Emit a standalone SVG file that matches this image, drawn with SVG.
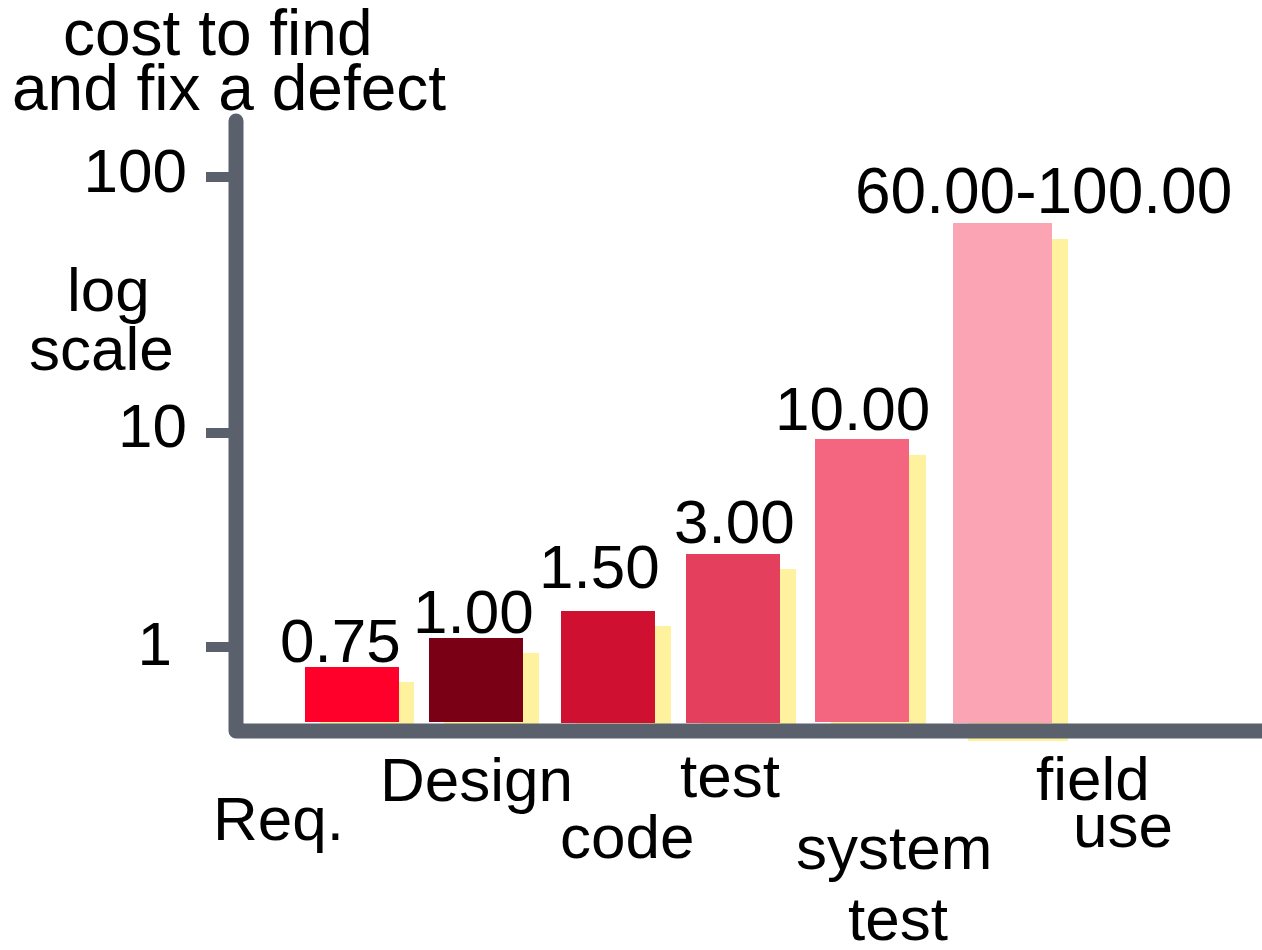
<svg xmlns="http://www.w3.org/2000/svg" width="1262" height="950" viewBox="0 0 1262 950">
  <style>
    text { font-family: "Liberation Sans", Arial, sans-serif; font-size: 62px; fill: #000; }
    .big { font-size: 64px; }
    .bar-shadow { fill: #FFF29E; }
    .axis { stroke: #5A606C; fill: none; }
  </style>
  <rect width="1262" height="950" fill="#FFFFFF"/>

  <g id="title">
    <text class="big" x="63" y="55">cost to find</text>
    <text class="big" x="12" y="110">and fix a defect</text>
  </g>

  <g id="y-axis-labels">
    <text x="187" y="192" text-anchor="end">100</text>
    <text x="187" y="447" text-anchor="end">10</text>
    <text x="172" y="665" text-anchor="end">1</text>
    <text x="67" y="311">log</text>
    <text x="29" y="370">scale</text>
  </g>

  <g id="bar-req">
    <rect class="bar-shadow" x="320" y="682" width="94" height="55"/>
    <rect x="305" y="667" width="94" height="55" fill="#FF002B"/>
    <text x="280" y="662">0.75</text>
  </g>
  <g id="bar-design">
    <rect class="bar-shadow" x="444" y="653" width="95" height="84"/>
    <rect x="429" y="638" width="94" height="84" fill="#7A0016"/>
    <text x="413" y="633">1.00</text>
  </g>
  <g id="bar-code">
    <rect class="bar-shadow" x="576" y="626" width="95" height="112"/>
    <rect x="561" y="611" width="94" height="112" fill="#CF1030"/>
    <text x="539" y="588">1.50</text>
  </g>
  <g id="bar-test">
    <rect class="bar-shadow" x="701" y="569" width="95" height="169"/>
    <rect x="686" y="554" width="94" height="169" fill="#E4405E"/>
    <text x="674" y="543">3.00</text>
  </g>
  <g id="bar-system-test">
    <rect class="bar-shadow" x="831" y="455" width="95" height="283"/>
    <rect x="815" y="439" width="94" height="283" fill="#F46680"/>
    <text x="775" y="430">10.00</text>
  </g>
  <g id="bar-field-use">
    <rect class="bar-shadow" x="968" y="239" width="100" height="502"/>
    <rect x="953" y="223" width="99" height="500" fill="#FBA5B4"/>
    <text class="big" x="855" y="213">60.00-100.00</text>
  </g>

  <g id="connectors">
    <path class="axis" d="M236,121 L236,731 L1275,731" stroke-width="15" stroke-linecap="round" stroke-linejoin="round"/>
    <line class="axis" x1="206" y1="177" x2="236" y2="177" stroke-width="10"/>
    <line class="axis" x1="206" y1="433" x2="236" y2="433" stroke-width="10"/>
    <line class="axis" x1="206" y1="647" x2="236" y2="647" stroke-width="10"/>
  </g>

  <g id="x-axis-labels">
    <text x="213" y="840">Req.</text>
    <text x="380" y="801">Design</text>
    <text x="560" y="858">code</text>
    <text x="680" y="797">test</text>
    <text x="796" y="869">system</text>
    <text x="848" y="940">test</text>
    <text x="1036" y="800">field</text>
    <text x="1073" y="847">use</text>
  </g>
</svg>
